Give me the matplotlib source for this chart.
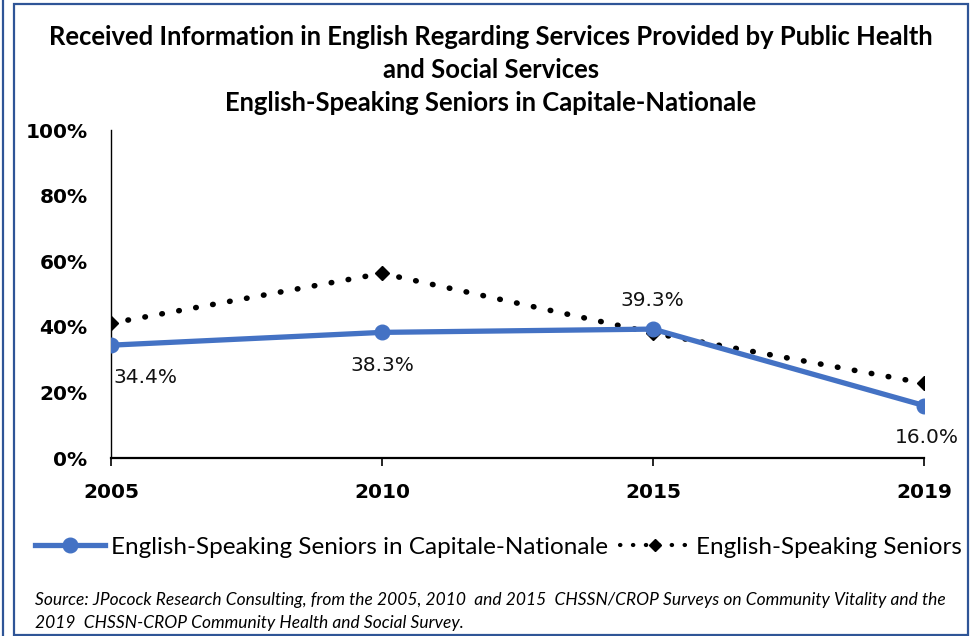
import matplotlib
matplotlib.use("Agg")
import matplotlib.pyplot as plt
from matplotlib.lines import Line2D
from matplotlib.patches import Rectangle

# ---------------- data ----------------
years = ["2005", "2010", "2015", "2019"]
capitale = [34.4, 38.3, 39.3, 16.0]
seniors = [41.1, 56.3, 38.1, 22.8]
cap_labels = ["34.4%", "38.3%", "39.3%", "16.0%"]
yticks = [0, 20, 40, 60, 80, 100]
ytick_labels = ["0%", "20%", "40%", "60%", "80%", "100%"]
title_lines = [
    "Received Information in English Regarding Services Provided by Public Health",
    "and Social Services",
    "English-Speaking Seniors in Capitale-Nationale",
]
legend_names = ["English-Speaking Seniors in Capitale-Nationale", "English-Speaking Seniors"]
source_lines = [
    "Source: JPocock Research Consulting, from the 2005, 2010  and 2015  CHSSN/CROP Surveys on Community Vitality and the",
    "2019  CHSSN-CROP Community Health and Social Survey.",
]

W, H = 975, 636
DPI = 100
fig = plt.figure(figsize=(W / DPI, H / DPI), dpi=DPI)
fig.patch.set_facecolor("white")

def fx(px):
    return px / W

def fy(py):
    return 1 - py / H

BLUE = "#4472C4"
CAL = ["Lato", "DejaVu Sans"]

# axes: x from 111 to 924 px, y from 458 (0%) to 130 (100%)
ax = fig.add_axes([fx(111), fy(458), fx(924) - fx(111), fy(130) - fy(458)])
xs = list(range(len(years)))

ax.plot(xs, seniors, color="black", lw=4.0, linestyle=(0, (0.1, 3.0)),
        dash_capstyle="round", marker="D", markersize=7, markerfacecolor="black",
        markeredgecolor="black", zorder=2, label=legend_names[1])
ax.plot(xs, capitale, color=BLUE, lw=3.8, marker="o", markersize=10.5,
        markerfacecolor=BLUE, markeredgecolor=BLUE, zorder=3, label=legend_names[0])

ax.set_xlim(0, len(years) - 1)
ax.set_ylim(0, 100)
ax.set_xticks(xs)
ax.set_xticklabels(years, fontsize=14.5, fontweight="bold", family="DejaVu Sans")
ax.set_yticks(yticks)
ax.set_yticklabels(ytick_labels, fontsize=14.5, fontweight="bold", family="DejaVu Sans")
ax.tick_params(axis="y", length=0, pad=17)
ax.tick_params(axis="x", length=6, width=1.2, direction="out", pad=12)
for s in ["top", "right"]:
    ax.spines[s].set_visible(False)
ax.spines["left"].set_linewidth(1.0)
ax.spines["bottom"].set_linewidth(1.6)
ax.set_facecolor("none")

# data labels
offsets = [(2, -32, "left"), (0, -33, "center"), (-1, 29, "center"), (3, -32, "center")]
for i, (dx, dy, ha) in enumerate(offsets):
    ax.annotate(cap_labels[i], (xs[i], capitale[i]), xytext=(dx, dy),
                textcoords="offset pixels", ha=ha, va="center",
                fontsize=14.5, color="#111111", family="DejaVu Sans", zorder=5)

fig.canvas.draw()
renderer = fig.canvas.get_renderer()

def fit(t, target_w):
    bb = t.get_window_extent(renderer)
    t.set_fontsize(t.get_fontsize() * target_w / bb.width)

# title
ty = [37, 70, 103]
t0 = fig.text(fx(491), fy(ty[0]), title_lines[0], ha="center", va="center",
              fontsize=15, fontweight="bold", family=CAL)
fit(t0, 890)
tsize = t0.get_fontsize()
for k in (1, 2):
    fig.text(fx(491), fy(ty[k]), title_lines[k], ha="center", va="center",
             fontsize=tsize, fontweight="bold", family=CAL)

# legend
h1 = Line2D([], [], color=BLUE, lw=3.8, marker="o", markersize=10.5)
h2 = Line2D([], [], color="black", lw=3.0, linestyle=(0, (0.1, 3.0)),
            dash_capstyle="round", marker="D", markersize=6)
probe = fig.text(0, 0, legend_names[0], fontsize=15, family=CAL)
fit(probe, 495)
lsize = probe.get_fontsize()
probe.remove()
lpx = lsize * DPI / 72
leg = fig.legend([h1, h2], legend_names, loc="center", ncol=2,
                 bbox_to_anchor=(fx(498), fy(547)), frameon=False,
                 prop={"family": CAL, "size": lsize},
                 handlelength=70 / lpx, handletextpad=6 / lpx,
                 columnspacing=12 / lpx, borderpad=0)

# source
s0 = fig.text(fx(35), fy(600), source_lines[0], ha="left", va="center",
              fontsize=11, style="italic", family=CAL)
fit(s0, 910)
fig.text(fx(35), fy(623), source_lines[1], ha="left", va="center",
         fontsize=s0.get_fontsize(), style="italic", family=CAL)

# chart border
fig.patches.append(Rectangle((fx(14), fy(635)), fx(968) - fx(14), fy(4) - fy(635),
                             transform=fig.transFigure, fill=False,
                             edgecolor="#2F5597", lw=1.6))
fig.add_artist(Line2D([fx(3), fx(3)], [0, 1], transform=fig.transFigure,
                      color="#2F5597", lw=1.6))

fig.savefig("out.png", dpi=DPI, facecolor="white")
